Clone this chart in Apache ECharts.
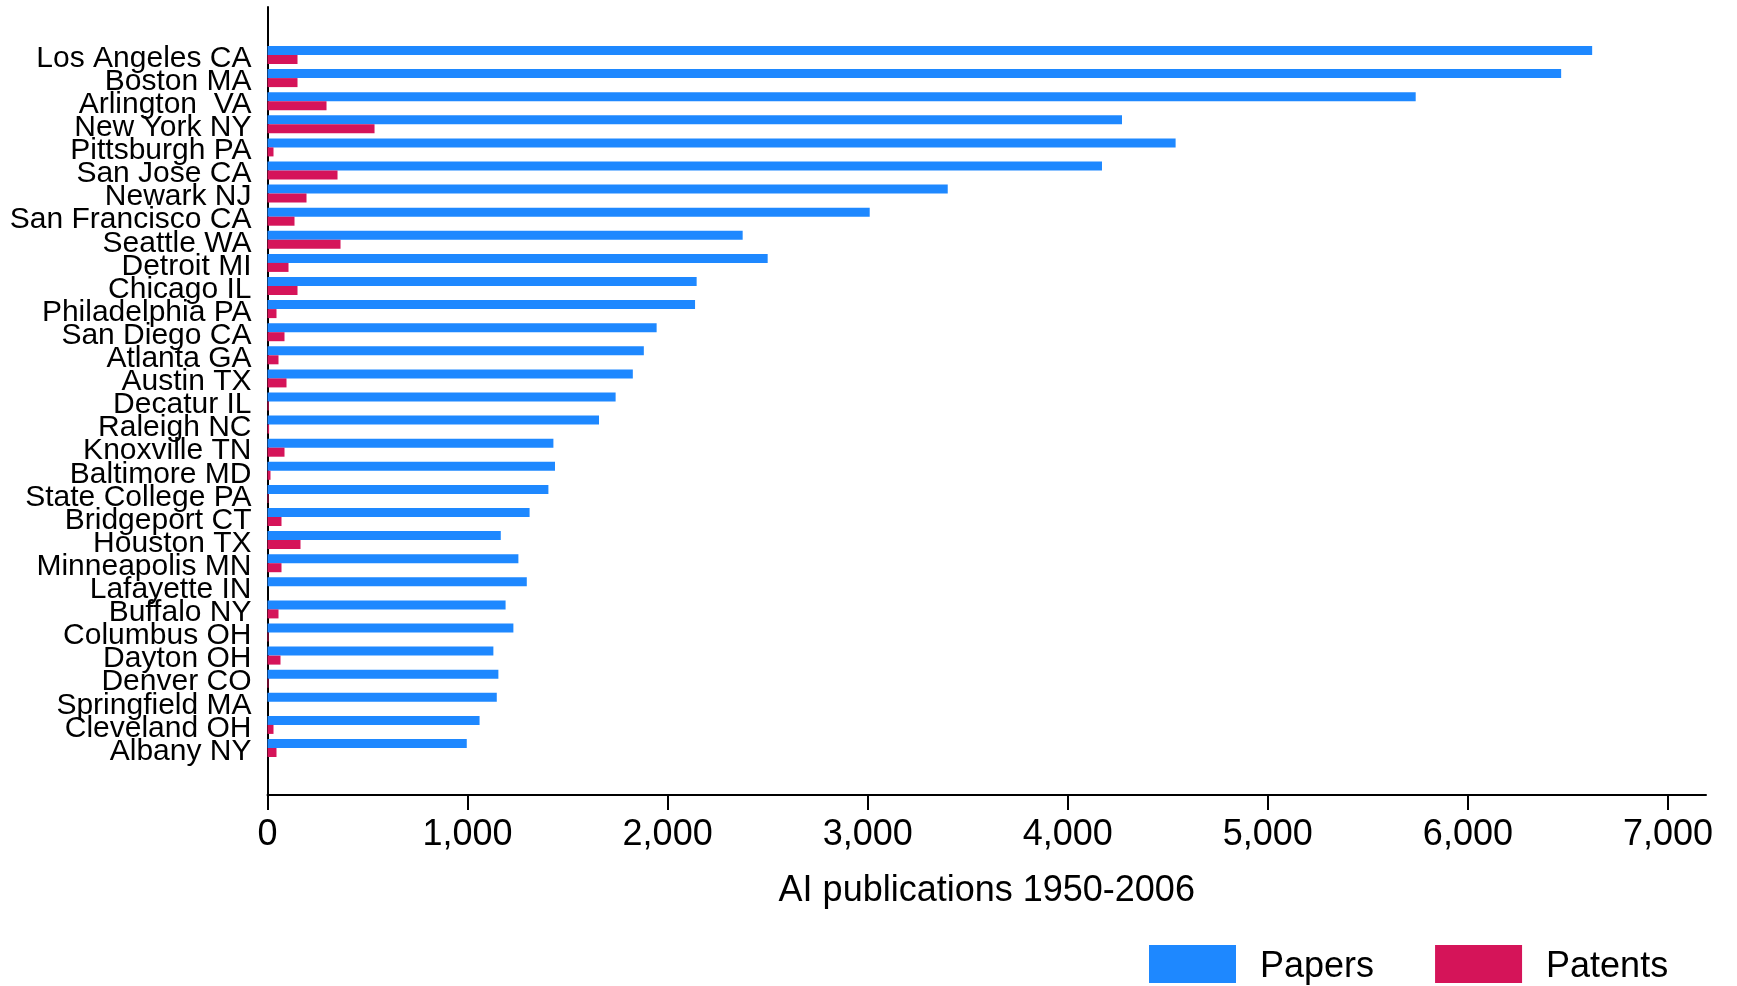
<!DOCTYPE html>
<html>
<head>
<meta charset="utf-8">
<script src="https://cdn.jsdelivr.net/npm/echarts@6/dist/echarts.min.js"></script>
<style>
  html, body { margin: 0; padding: 0; background: #ffffff; }
  #chart { width: 1737px; height: 986px; }
</style>
</head>
<body>
<div id="chart"></div>
<script>
// Data (top to bottom)
const categories = [
  'Los Angeles CA', 'Boston MA', 'Arlington  VA', 'New York NY', 'Pittsburgh PA',
  'San Jose CA', 'Newark NJ', 'San Francisco CA', 'Seattle WA', 'Detroit MI',
  'Chicago IL', 'Philadelphia PA', 'San Diego CA', 'Atlanta GA', 'Austin TX',
  'Decatur IL', 'Raleigh NC', 'Knoxville TN', 'Baltimore MD', 'State College PA',
  'Bridgeport CT', 'Houston TX', 'Minneapolis MN', 'Lafayette IN', 'Buffalo NY',
  'Columbus OH', 'Dayton OH', 'Denver CO', 'Springfield MA', 'Cleveland OH',
  'Albany NY'
];
const papers = [
  6621, 6466, 5739, 4271, 4539,
  4171, 3400, 3010, 2375, 2500,
  2145, 2137, 1945, 1881, 1826,
  1740, 1657, 1429, 1437, 1404,
  1310, 1166, 1254, 1296, 1190,
  1229, 1129, 1154, 1146, 1060,
  996
];
const patents = [
  150, 150, 295, 535, 30,
  350, 195, 135, 365, 105,
  150, 45, 85, 55, 95,
  6, 8, 85, 15, 5,
  70, 165, 70, 0, 55,
  5, 65, 5, 0, 30,
  45
];
const xTicks = [0, 1000, 2000, 3000, 4000, 5000, 6000, 7000];
const xMax = 7190;
const seriesNames = ['Papers', 'Patents'];
const xTitle = 'AI publications 1950-2006';

const FONT = "'Liberation Sans', Arial, Helvetica, sans-serif";
const BLUE = '#1e88ff';
const RED = '#d51459';

const chart = echarts.init(document.getElementById('chart'), null, { renderer: 'canvas' });

const option = {
  backgroundColor: '#ffffff',
  animation: false,
  textStyle: { fontFamily: FONT, color: '#000' },
  grid: [
    { left: 267.5, right: 31, top: 7, bottom: 191, containLabel: false },
    { left: 267.5, right: 31, top: 43.45, height: 716.1, containLabel: false }
  ],
  legend: {
    data: seriesNames,
    left: 1144,
    top: 940,
    orient: 'horizontal',
    icon: 'rect',
    itemWidth: 87,
    itemHeight: 38,
    itemGap: 61,
    formatter: '{t|{name}}',
    textStyle: {
      fontFamily: FONT, fontSize: 36, color: '#000',
      rich: { t: { fontFamily: FONT, fontSize: 36, color: '#000', padding: [7, 0, 0, 19] } }
    },
    selectedMode: false
  },
  xAxis: [
    {
      gridIndex: 0,
      type: 'value',
      min: 0,
      max: xMax,
      interval: 1000,
      axisLine: { show: true, onZero: false, lineStyle: { color: '#000', width: 2 } },
      axisTick: { show: true, length: 15, lineStyle: { color: '#000', width: 2 }, customValues: xTicks },
      axisLabel: {
        show: true, margin: 22, fontSize: 36, fontFamily: FONT, color: '#000',
        customValues: xTicks,
        formatter: v => Number(v).toLocaleString('en-US')
      },
      splitLine: { show: false },
      name: xTitle,
      nameLocation: 'middle',
      nameGap: 78,
      nameTextStyle: { fontSize: 36, fontFamily: FONT, color: '#000' }
    },
    {
      gridIndex: 1,
      type: 'value',
      min: 0,
      max: xMax,
      interval: 1000,
      show: false,
      splitLine: { show: false }
    }
  ],
  yAxis: [
    {
      gridIndex: 0,
      type: 'value',
      min: 0,
      max: 1,
      axisLine: { show: true, onZero: false, lineStyle: { color: '#000', width: 2 } },
      axisTick: { show: false },
      axisLabel: { show: false },
      splitLine: { show: false }
    },
    {
      gridIndex: 1,
      type: 'category',
      data: categories,
      inverse: true,
      axisLine: { show: false },
      axisTick: { show: false },
      axisLabel: {
        show: true, margin: 16, fontSize: 30, fontFamily: FONT, color: '#000',
        interval: 0, verticalAlign: 'top', lineHeight: 7
      },
      splitLine: { show: false }
    }
  ],
  series: [
    {
      name: seriesNames[0],
      type: 'bar',
      xAxisIndex: 1,
      yAxisIndex: 1,
      data: papers,
      barGap: '0%',
      barCategoryGap: '22%',
      itemStyle: { color: BLUE },
      emphasis: { disabled: true }
    },
    {
      name: seriesNames[1],
      type: 'bar',
      xAxisIndex: 1,
      yAxisIndex: 1,
      data: patents,
      barGap: '0%',
      barCategoryGap: '22%',
      itemStyle: { color: RED },
      emphasis: { disabled: true }
    }
  ]
};

chart.setOption(option);
</script>
</body>
</html>
